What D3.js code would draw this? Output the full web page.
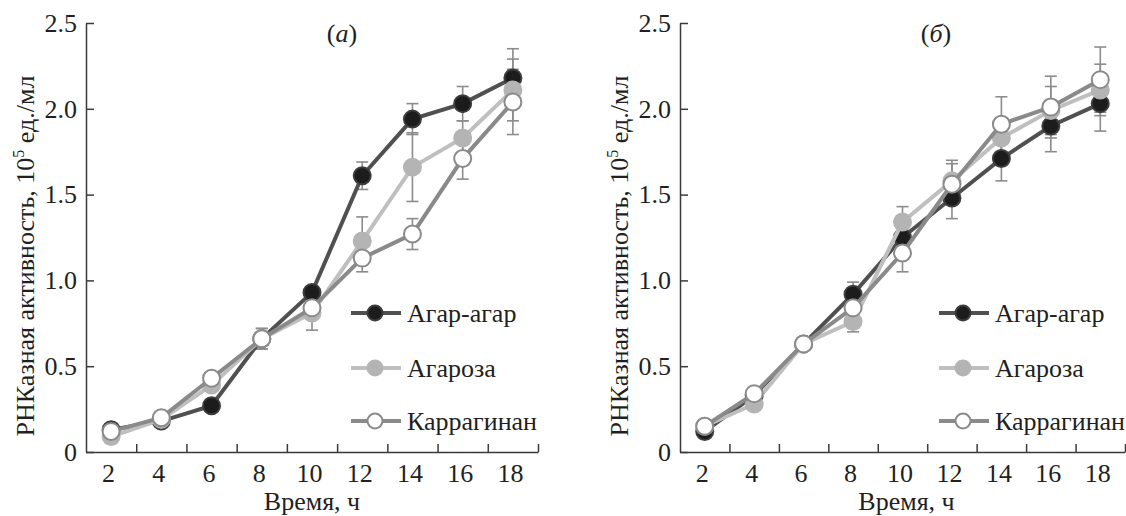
<!DOCTYPE html>
<html>
<head>
<meta charset="utf-8">
<script src="https://cdn.jsdelivr.net/npm/d3@7"></script>
<style>
  html, body { margin: 0; padding: 0; background: #fff; }
  .axis path, .axis line { stroke: #3a3a3a; stroke-width: 1.5; }
</style>
</head>
<body>
<div id="chart"></div>
<script>
// Hours of cultivation (x categories)
const hours = [2, 4, 6, 8, 10, 12, 14, 16, 18];
const yTicks = [0, 0.5, 1.0, 1.5, 2.0, 2.5];
const seriesNames = ['Агар-агар', 'Агароза', 'Каррагинан'];

// Panel (а)
const agarA = [0.13, 0.18, 0.27, 0.66, 0.93, 1.61, 1.94, 2.03, 2.18];
const agaroseA = [0.09, 0.19, 0.39, 0.66, 0.81, 1.23, 1.66, 1.83, 2.11];
const carrA = [0.12, 0.20, 0.43, 0.66, 0.84, 1.13, 1.27, 1.71, 2.04];
const agarErrA = [0.01, 0.01, 0.01, 0.03, 0.02, 0.08, 0.09, 0.10, 0.17];
const agaroseErrA = [0.01, 0.01, 0.02, 0.06, 0.10, 0.14, 0.20, 0.10, 0.18];
const carrErrA = [0.01, 0.01, 0.01, 0.06, 0.03, 0.08, 0.09, 0.12, 0.19];

// Panel (б)
const agarB = [0.12, 0.33, 0.63, 0.92, 1.25, 1.48, 1.71, 1.90, 2.03];
const agaroseB = [0.15, 0.28, 0.63, 0.76, 1.34, 1.58, 1.83, 1.99, 2.11];
const carrB = [0.15, 0.34, 0.63, 0.84, 1.16, 1.56, 1.91, 2.01, 2.17];
const agarErrB = [0.01, 0.01, 0.01, 0.07, 0.05, 0.12, 0.13, 0.15, 0.16];
const agaroseErrB = [0.01, 0.01, 0.01, 0.06, 0.09, 0.12, 0.10, 0.14, 0.15];
const carrErrB = [0.01, 0.01, 0.01, 0.05, 0.11, 0.12, 0.16, 0.18, 0.19];

const styles = [
  { line: '#505050', fill: '#1c1c1c', stroke: '#3c3c3c' },
  { line: '#bfbfbf', fill: '#b4b4b4', stroke: '#b4b4b4' },
  { line: '#8a8a8a', fill: '#ffffff', stroke: '#8a8a8a' }
];

const FONT = "'Liberation Serif', 'Times New Roman', 'DejaVu Serif', serif";
const FS = 26;
const W = 1126, H = 516;
const svg = d3.select('#chart').append('svg')
  .attr('width', W).attr('height', H)
  .attr('font-family', FONT);

function drawPanel(opts) {
  const x = d3.scaleLinear().domain([1, 19]).range([opts.left, opts.right]);
  const y = d3.scaleLinear().domain([0, 2.5]).range([452, 23]);
  const g = svg.append('g');

  // y axis, ticks pointing inward
  g.append('g')
    .attr('class', 'axis')
    .attr('transform', `translate(${opts.left},0)`)
    .call(d3.axisLeft(y).tickValues(yTicks).tickSizeInner(-8).tickSizeOuter(0).tickPadding(9)
      .tickFormat(d => d === 0 ? '0' : d.toFixed(1)));

  // x axis: tick marks on category borders
  const borders = hours.map(h => h + 1);
  g.append('g')
    .attr('class', 'axis')
    .attr('transform', 'translate(0,452)')
    .call(d3.axisBottom(x).tickValues(borders).tickSizeInner(-8).tickSizeOuter(0).tickFormat(''));

  // x labels centered on categories
  const xl = g.append('g')
    .attr('class', 'axis')
    .attr('transform', 'translate(-3,452)')
    .call(d3.axisBottom(x).tickValues(hours).tickSize(0).tickPadding(12));
  xl.select('.domain').remove();

  g.selectAll('.axis')
    .attr('font-family', FONT)
    .attr('font-size', FS)
    .selectAll('text').attr('fill', '#231f20');

  // axis titles
  g.append('text')
    .attr('x', (opts.left + opts.right) / 2 + opts.titleShift)
    .attr('y', 510)
    .attr('text-anchor', 'middle')
    .attr('font-size', FS)
    .attr('fill', '#231f20')
    .text('Время, ч');

  const yt = g.append('text')
    .attr('transform', `translate(${opts.left - 52},${256}) rotate(-90)`)
    .attr('text-anchor', 'middle')
    .attr('font-size', FS)
    .attr('fill', '#231f20');
  yt.append('tspan').text('РНКазная активность, 10');
  yt.append('tspan').attr('font-size', 16).attr('dy', -10).text('5');
  yt.append('tspan').attr('dy', 10).text(' ед./мл');

  const tt = g.append('text')
    .attr('x', opts.left + 256)
    .attr('y', 42)
    .attr('text-anchor', 'middle')
    .attr('font-size', FS)
    .attr('fill', '#231f20');
  tt.append('tspan').text('(');
  tt.append('tspan').attr('font-style', 'italic').text(opts.tag);
  tt.append('tspan').text(')');

  // error bars
  const cap = 6;
  opts.series.forEach((vals, si) => {
    const errs = opts.errors[si];
    const eg = g.append('g').attr('stroke', '#8c8c8c').attr('stroke-width', 1.6);
    hours.forEach((h, i) => {
      const cx = x(h), y0 = y(vals[i] - errs[i]), y1 = y(vals[i] + errs[i]);
      eg.append('line').attr('x1', cx).attr('x2', cx).attr('y1', y0).attr('y2', y1);
      eg.append('line').attr('x1', cx - cap).attr('x2', cx + cap).attr('y1', y0).attr('y2', y0);
      eg.append('line').attr('x1', cx - cap).attr('x2', cx + cap).attr('y1', y1).attr('y2', y1);
    });
  });

  // lines and markers
  const line = d3.line().x((d, i) => x(hours[i])).y(d => y(d));
  opts.series.forEach((vals, si) => {
    const st = styles[si];
    g.append('path')
      .attr('d', line(vals))
      .attr('fill', 'none')
      .attr('stroke', st.line)
      .attr('stroke-width', 4);
    g.selectAll(null)
      .data(vals)
      .enter()
      .append('circle')
      .attr('cx', (d, i) => x(hours[i]))
      .attr('cy', d => y(d))
      .attr('r', 8.5)
      .attr('fill', st.fill)
      .attr('stroke', st.stroke)
      .attr('stroke-width', 2);
  });

  // legend
  const legY = [313, 368, 421];
  seriesNames.forEach((name, si) => {
    const st = styles[si];
    const lg = g.append('g').attr('transform', `translate(${opts.legendX},${legY[si]})`);
    lg.append('line').attr('x1', -24).attr('x2', 26).attr('y1', 0).attr('y2', 0)
      .attr('stroke', st.line).attr('stroke-width', 4);
    lg.append('circle').attr('r', 7.5).attr('fill', st.fill).attr('stroke', st.stroke).attr('stroke-width', 2);
    lg.append('text')
      .attr('x', 32)
      .attr('y', 0)
      .attr('dy', '0.35em')
      .attr('font-size', FS)
      .attr('fill', '#231f20')
      .text(name);
  });
}

drawPanel({
  left: 86, right: 538, tag: 'а', legendX: 375, titleShift: 0,
  series: [agarA, agaroseA, carrA],
  errors: [agarErrA, agaroseErrA, carrErrA]
});

drawPanel({
  left: 680, right: 1125, tag: 'б', legendX: 963, titleShift: 4,
  series: [agarB, agaroseB, carrB],
  errors: [agarErrB, agaroseErrB, carrErrB]
});
</script>
</body>
</html>
